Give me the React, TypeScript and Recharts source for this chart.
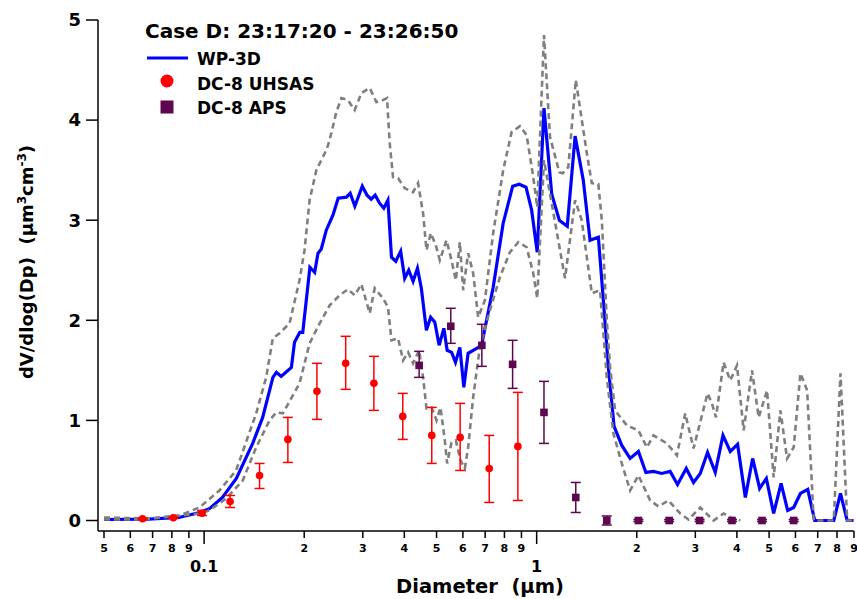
import React from 'react';
import {
  ComposedChart,
  Line,
  Scatter,
  ErrorBar,
  XAxis,
  YAxis,
  Legend,
} from 'recharts';

const FONT = 'DejaVu Sans';

// WP-3D mean size distribution (diameter in µm, dV/dlogDp)
const WP3D_DIAM = [
  0.05, 0.068, 0.084, 0.097, 0.104, 0.1135, 0.125, 0.14, 0.15, 0.161,
  0.165, 0.1705, 0.183, 0.187, 0.194, 0.198, 0.208, 0.215, 0.22, 0.225,
  0.233, 0.244, 0.253, 0.268, 0.275, 0.284, 0.299, 0.309, 0.318, 0.327,
  0.337, 0.347, 0.357, 0.366, 0.377, 0.39, 0.401, 0.4125, 0.425, 0.438,
  0.45, 0.466, 0.48, 0.494, 0.509, 0.526, 0.538, 0.555, 0.57, 0.5875,
  0.604, 0.622, 0.66, 0.683, 0.74, 0.793, 0.847, 0.886, 0.929, 0.966,
  1.004, 1.052, 1.11, 1.17, 1.236, 1.305, 1.381, 1.447, 1.533, 1.587,
  1.643, 1.709, 1.803, 1.91, 2.023, 2.13, 2.245, 2.379, 2.52, 2.652,
  2.817, 2.963, 3.104, 3.265, 3.444, 3.633, 3.821, 4.02, 4.241, 4.461,
  4.683, 4.906, 5.16, 5.432, 5.686, 5.927, 6.21, 6.533, 6.857, 7.824, 8.196, 8.584, 8.97,
];
const WP3D_VAL = [
  0.01, 0.013, 0.03, 0.08, 0.12, 0.23, 0.42, 0.77, 1.03, 1.43,
  1.48, 1.44, 1.53, 1.78, 1.88, 1.88, 2.53, 2.48, 2.67, 2.71,
  2.9, 3.05, 3.22, 3.23, 3.27, 3.14, 3.34, 3.25, 3.21, 3.25,
  3.17, 3.12, 3.2, 2.63, 2.59, 2.69, 2.42, 2.5, 2.39, 2.52,
  2.32, 1.9, 2.03, 1.98, 1.75, 1.92, 1.7, 1.68, 1.58, 1.73,
  1.33, 1.67, 1.72, 1.75, 2.33, 2.97, 3.34, 3.36, 3.33, 3.1,
  2.68, 4.12, 3.26, 3.0, 2.94, 3.84, 3.4, 2.8, 2.83, 2.2,
  1.53, 0.94, 0.75, 0.62, 0.69, 0.48, 0.49, 0.47, 0.49, 0.36,
  0.52, 0.38, 0.47, 0.68, 0.48, 0.85, 0.69, 0.76, 0.23, 0.62,
  0.32, 0.42, 0.07, 0.37, 0.1, 0.13, 0.27, 0.31, 0, 0, 0.27, 0, 0,
];

// upper / lower envelope (dashed grey)
const UPPER_DIAM = [
  0.05, 0.0684, 0.0843, 0.0968, 0.1112, 0.1248, 0.1434, 0.1537, 0.1609, 0.1686,
  0.1807, 0.1936, 0.2004, 0.2076, 0.2175, 0.2331, 0.2385, 0.2498, 0.2587, 0.2707,
  0.2836, 0.2971, 0.3148, 0.3297, 0.3451, 0.3548, 0.3615, 0.3699, 0.383, 0.4013,
  0.4249, 0.4399, 0.4555, 0.4663, 0.4804, 0.4974, 0.5114, 0.5357, 0.5546, 0.5714,
  0.5875, 0.6011, 0.6223, 0.6442, 0.667, 0.6987, 0.74, 0.7932, 0.8408, 0.8906,
  0.933, 0.9767, 1.004, 1.052, 1.097, 1.17, 1.198, 1.245, 1.311, 1.415,
  1.465, 1.533, 1.57, 1.625, 1.663, 1.721, 1.867, 2.023, 2.145, 2.245,
  2.464, 2.641, 2.797, 2.963, 3.265, 3.366, 3.461, 3.648, 3.821, 4.003,
  4.192, 4.442, 4.651, 4.929, 5.16, 5.406, 5.662, 5.927, 6.21, 6.506,
  6.81, 7.824, 8.196, 8.584, 8.97,
];
const UPPER_VAL = [
  0.03, 0.02, 0.05, 0.13, 0.3, 0.5, 1.07, 1.43, 1.82, 1.87,
  1.97, 2.4, 2.7, 3.2, 3.5, 3.7, 3.8, 4.08, 4.22, 4.2,
  4.1, 4.27, 4.32, 4.18, 4.2, 4.22, 3.77, 3.43, 3.42, 3.32,
  3.28, 3.37, 3.07, 2.7, 2.87, 2.75, 2.6, 2.8, 2.6, 2.4,
  2.78, 2.3, 2.67, 2.47, 2.03, 2.2, 2.87, 3.5, 3.88, 3.94,
  3.85, 3.43, 3.13, 4.85, 3.83, 3.48, 3.47, 3.53, 4.4, 3.67,
  3.37, 3.36, 3.0, 2.0, 1.53, 1.1, 0.95, 0.9, 0.73, 0.85,
  0.77, 0.65, 1.07, 0.72, 1.27, 1.17, 1.03, 1.58, 1.4, 1.55,
  0.9, 1.5, 1.03, 1.3, 0.43, 1.1, 0.62, 0.73, 1.47, 1.3,
  0, 0, 1.47, 0, 0,
];
const LOWER_DIAM = [
  0.05, 0.0653, 0.0968, 0.1037, 0.1165, 0.1307, 0.1434, 0.1573, 0.1648, 0.1725,
  0.1936, 0.2076, 0.2226, 0.2385, 0.2556, 0.2707, 0.2836, 0.2971, 0.3148, 0.3258,
  0.3451, 0.3573, 0.3659, 0.383, 0.3966, 0.4106, 0.4249, 0.443, 0.4555, 0.4663,
  0.4829, 0.4999, 0.5139, 0.5295, 0.538, 0.5546, 0.5714, 0.5904, 0.6081, 0.6223,
  0.6442, 0.6749, 0.7234, 0.7752, 0.8309, 0.8804, 0.933, 0.9767, 1.004, 1.052,
  1.217, 1.305, 1.366, 1.465, 1.551, 1.625, 1.701, 1.803, 1.91, 2.023,
  2.194, 2.324, 2.491, 2.702, 2.861, 3.104, 3.404, 3.648, 3.821, 4.096,
];
const LOWER_VAL = [
  0.01, 0.01, 0.07, 0.1, 0.22, 0.4, 0.73, 1.0, 1.08, 1.07,
  1.37, 1.77, 1.97, 2.15, 2.25, 2.31, 2.25, 2.36, 2.07, 2.32,
  2.22, 2.13, 1.8, 1.82, 1.6, 1.68, 1.57, 1.7, 1.43, 1.12,
  1.13, 1.0, 1.13, 0.8, 0.57, 0.78, 0.8, 0.6, 0.52, 0.73,
  1.23, 1.73, 2.1, 2.43, 2.68, 2.78, 2.73, 2.47, 2.22, 3.6,
  2.42, 3.2, 3.0, 2.27, 2.3, 1.43, 0.87, 0.57, 0.3, 0.45,
  0.2, 0.14, 0.2, 0.07, 0.01, 0.13, 0, 0.07, 0.03, 0,
];

// DC-8 UHSAS
const UHSAS_DIAM = [0.0653, 0.0808, 0.0986, 0.1197, 0.1468, 0.1786, 0.2184, 0.2665, 0.324, 0.3957, 0.4837, 0.5887, 0.7201, 0.878];
const UHSAS_VAL = [0.017, 0.027, 0.073, 0.19, 0.45, 0.81, 1.29, 1.57, 1.37, 1.04, 0.85, 0.83, 0.52, 0.74];
const UHSAS_LOW = [0.01, 0.02, 0.05, 0.13, 0.32, 0.58, 1.01, 1.31, 1.1, 0.81, 0.57, 0.5, 0.18, 0.2];
const UHSAS_HIGH = [0.025, 0.035, 0.1, 0.25, 0.57, 1.03, 1.57, 1.84, 1.64, 1.27, 1.13, 1.17, 0.85, 1.28];

// DC-8 APS
const APS_DIAM = [0.4432, 0.5518, 0.6842, 0.8466, 1.052, 1.311, 1.625, 2.023, 2.503, 3.09, 3.867, 4.761, 5.927];
const APS_VAL = [1.55, 1.94, 1.75, 1.56, 1.08, 0.23, 0, 0, 0, 0, 0, 0, 0];
const APS_LOW = [1.43, 1.77, 1.54, 1.32, 0.77, 0.08, -0.045, -0.01, -0.01, -0.01, -0.01, -0.01, -0.01];
const APS_HIGH = [1.69, 2.12, 1.96, 1.8, 1.39, 0.38, 0.045, 0.01, 0.01, 0.01, 0.01, 0.01, 0.01];

const X_TICKS = [0.05, 0.06, 0.07, 0.08, 0.09, 0.1, 0.2, 0.3, 0.4, 0.5, 0.6, 0.7, 0.8, 0.9, 1, 2, 3, 4, 5, 6, 7, 8, 9];
const X_TICK_LABELS = ['5', '6', '7', '8', '9', '0.1', '2', '3', '4', '5', '6', '7', '8', '9', '1', '2', '3', '4', '5', '6', '7', '8', '9'];
const X_MAJOR = [0.1, 1];
const Y_TICKS = [0, 1, 2, 3, 4, 5];

const TITLE = 'Case D: 23:17:20 - 23:26:50';
const LEGEND_LABELS = ['WP-3D', 'DC-8 UHSAS', 'DC-8 APS'];

const BLUE = '#0000ff';
const GREY = '#7f7f7f';
const RED = '#ff0000';
const PURPLE = '#5e0650';

const wp3d = WP3D_DIAM.map((d, i) => ({ d, v: WP3D_VAL[i] }));
const upper = UPPER_DIAM.map((d, i) => ({ d, v: UPPER_VAL[i] }));
const lower = LOWER_DIAM.map((d, i) => ({ d, v: LOWER_VAL[i] }));
const uhsas = UHSAS_DIAM.map((d, i) => ({
  d,
  v: UHSAS_VAL[i],
  err: [UHSAS_VAL[i] - UHSAS_LOW[i], UHSAS_HIGH[i] - UHSAS_VAL[i]],
}));
const aps = APS_DIAM.map((d, i) => ({
  d,
  v: APS_VAL[i],
  err: [APS_VAL[i] - APS_LOW[i], APS_HIGH[i] - APS_VAL[i]],
}));

const XTick = (props: any) => {
  const { x, y, payload } = props;
  const idx = X_TICKS.indexOf(payload.value);
  const major = X_MAJOR.includes(payload.value);
  return (
    <g>
      <line x1={x} x2={x} y1={y} y2={y + (major ? 13 : 7)} stroke="#000" strokeWidth={1.5} />
      {major ? (
        <text x={x} y={y + 41} textAnchor="middle" fontFamily={FONT} fontWeight="bold" fontSize={16} fill="#000">
          {X_TICK_LABELS[idx]}
        </text>
      ) : (
        <text x={x} y={y + 21} textAnchor="middle" fontFamily={FONT} fontWeight="bold" fontSize={11} fill="#000">
          {X_TICK_LABELS[idx]}
        </text>
      )}
    </g>
  );
};

const XTitle = () => (
  <text x={480} y={593} textAnchor="middle" fontFamily={FONT} fontWeight="bold" fontSize={19.5} fill="#000">
    {'Diameter\u00a0\u00a0(µm)'}
  </text>
);

const YTitle = () => (
  <text
    x={33}
    y={262}
    transform="rotate(-90 33 262)"
    textAnchor="middle"
    fontFamily={FONT}
    fontWeight="bold"
    fontSize={18}
    fill="#000"
  >
    {'dV/dlog(Dp)\u00a0\u00a0(µm'}
    <tspan dy={-7} fontSize={12}>3</tspan>
    <tspan dy={7}>cm</tspan>
    <tspan dy={-7} fontSize={12}>-3</tspan>
    <tspan dy={7}>)</tspan>
  </text>
);

const LegendBox = () => (
  <svg width={470} height={125} style={{ display: 'block' }}>
    <text x={145} y={38} fontFamily={FONT} fontWeight="bold" fontSize={20} fill="#000">
      {TITLE}
    </text>
    <line x1={147} x2={188} y1={58} y2={58} stroke={BLUE} strokeWidth={3} />
    <circle cx={167} cy={81} r={6.5} fill={RED} />
    <rect x={160.5} y={100.5} width={13} height={13} fill={PURPLE} />
    {LEGEND_LABELS.map((label, i) => (
      <text key={label} x={197} y={65 + i * 24.5} fontFamily={FONT} fontWeight="bold" fontSize={17} fill="#000">
        {label}
      </text>
    ))}
  </svg>
);

const dotShape = (props: any) => <circle cx={props.cx} cy={props.cy} r={3.8} fill={RED} />;
const squareShape = (props: any) => (
  <rect x={props.cx - 3.8} y={props.cy - 3.8} width={7.6} height={7.6} fill={PURPLE} />
);

export default function App() {
  return (
    <div style={{ position: 'absolute', left: 0, top: 0, width: 857, height: 599, background: '#fff' }}>
      <ComposedChart width={857} height={599} margin={{ top: 20, right: 3, bottom: 8, left: 38 }}>
        <XAxis
          dataKey="d"
          type="number"
          scale="log"
          domain={[0.05, 9]}
          allowDataOverflow
          ticks={X_TICKS}
          interval={0}
          height={60}
          padding={{ left: 6, right: 0 }}
          tickLine={false}
          tickSize={0}
          tickMargin={0}
          tick={(p: any) => <XTick {...p} />}
          axisLine={{ stroke: '#000', strokeWidth: 1.5 }}
          label={() => <XTitle />}
        />
        <YAxis
          type="number"
          domain={[0, 5]}
          ticks={Y_TICKS}
          interval={0}
          width={60}
          padding={{ top: 0, bottom: 6 }}
          tickSize={12}
          tickMargin={5}
          tick={{ fill: '#000', fontSize: 18, fontWeight: 'bold', fontFamily: FONT }}
          tickLine={{ stroke: '#000', strokeWidth: 1.5 }}
          axisLine={{ stroke: '#000', strokeWidth: 1.5 }}
          label={() => <YTitle />}
        />
        <Legend
          layout="vertical"
          verticalAlign="middle"
          align="center"
          content={() => <LegendBox />}
          wrapperStyle={{ left: 0, top: 0, width: 470, height: 125, margin: 0 }}
        />
        <Line
          data={wp3d}
          dataKey="v"
          type="linear"
          stroke={BLUE}
          strokeWidth={3.2}
          dot={false}
          isAnimationActive={false}
        />
        <Line
          data={upper}
          dataKey="v"
          type="linear"
          stroke={GREY}
          strokeWidth={2.6}
          strokeDasharray="6 4"
          dot={false}
          isAnimationActive={false}
        />
        <Line
          data={lower}
          dataKey="v"
          type="linear"
          stroke={GREY}
          strokeWidth={2.6}
          strokeDasharray="6 4"
          dot={false}
          isAnimationActive={false}
        />
        <Scatter data={uhsas} dataKey="v" shape={dotShape} isAnimationActive={false}>
          <ErrorBar dataKey="err" direction="y" width={5} stroke={RED} strokeWidth={1.5} isAnimationActive={false} />
        </Scatter>
        <Scatter data={aps} dataKey="v" shape={squareShape} isAnimationActive={false}>
          <ErrorBar dataKey="err" direction="y" width={5} stroke={PURPLE} strokeWidth={1.5} isAnimationActive={false} />
        </Scatter>
      </ComposedChart>
    </div>
  );
}
